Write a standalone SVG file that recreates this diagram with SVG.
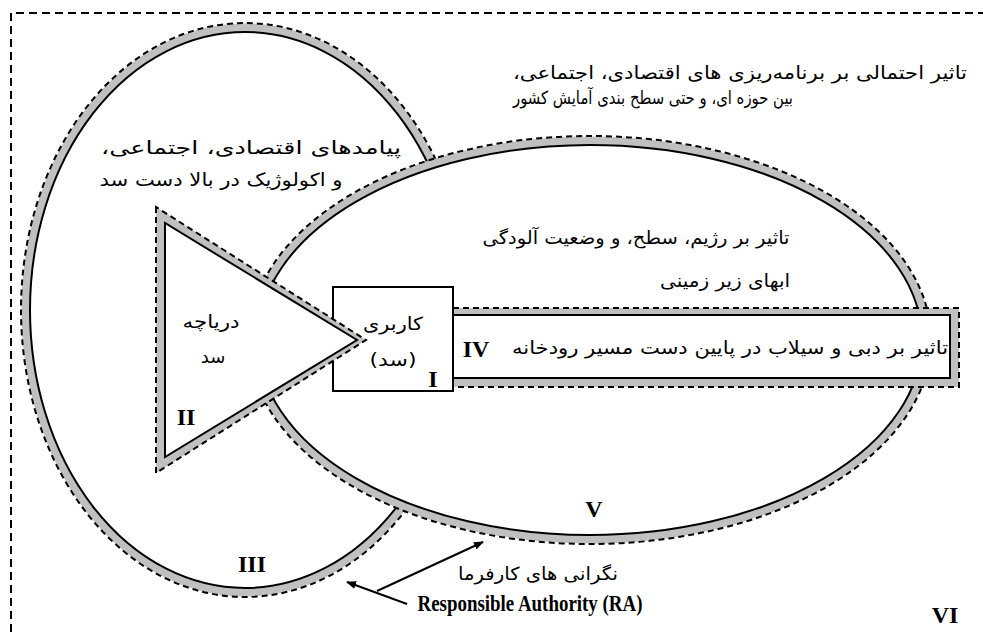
<svg xmlns="http://www.w3.org/2000/svg" width="983" height="632" viewBox="0 0 983 632">
<defs>
<style>
.band{fill:none;stroke:#c0c0c0;stroke-width:8}
.solid{stroke:#000;stroke-width:2}
.dash{fill:none;stroke:#000;stroke-width:2;stroke-dasharray:6 4}
.fa{font-family:"DejaVu Sans",sans-serif;font-size:18px;fill:#000;direction:rtl;unicode-bidi:embed;text-anchor:middle}
.rom{font-family:"Liberation Serif",serif;font-size:24px;font-weight:bold;fill:#000;text-anchor:middle}
</style>
<marker id="ah" viewBox="0 0 10 10" refX="9" refY="5" markerWidth="10" markerHeight="10" markerUnits="userSpaceOnUse" orient="auto">
<path d="M0,1 L10,5 L0,9 Z" fill="#000"/>
</marker>
</defs>
<rect width="983" height="632" fill="#fff"/>
<g id="frame">
<path d="M11,632 V13 H983" fill="none" stroke="#000" stroke-width="2" stroke-dasharray="8 5"/>
</g>
<g id="zone-III">
<ellipse cx="245" cy="310" rx="219.5" ry="282.5" class="band"/>
<ellipse cx="245" cy="310" rx="215" ry="278" fill="none" class="solid"/>
<ellipse cx="245" cy="310" rx="224" ry="287" class="dash"/>
</g>
<g id="zone-V">
<ellipse cx="590" cy="340" rx="336.5" ry="199.5" class="band"/>
<ellipse cx="590" cy="340" rx="332" ry="195" fill="#fff" class="solid"/>
<ellipse cx="590" cy="340" rx="341" ry="204" class="dash"/>
</g>
<g id="zone-IV">
<rect x="453" y="308" width="506" height="79" fill="#c0c0c0"/>
<rect x="453" y="315" width="497" height="63" fill="#fff" class="solid"/>
<path d="M453,308 H959 V387 H453" class="dash"/>
</g>
<g id="zone-I">
<rect x="333" y="287" width="120" height="104" fill="#fff" class="solid"/>
</g>
<g id="zone-II">
<polygon points="156,207 156,473 366,340" fill="#c0c0c0"/>
<polygon points="156,207 156,473 366,340" class="dash"/>
<polygon points="165,223 165,457 357,340" fill="#fff" class="solid"/>
</g>
<g id="labels">
<text class="fa" x="740" y="79" textLength="454" lengthAdjust="spacingAndGlyphs">تاثیر احتمالی بر برنامه‌ریزی های اقتصادی، اجتماعی،</text>
<text class="fa" x="653" y="104" textLength="280" lengthAdjust="spacingAndGlyphs">بین حوزه ای، و حتی سطح بندی آمایش کشور</text>
<text class="fa" x="251" y="154" textLength="300" lengthAdjust="spacingAndGlyphs">پیامدهای اقتصادی، اجتماعی،</text>
<text class="fa" x="221" y="186" textLength="243" lengthAdjust="spacingAndGlyphs">و اکولوژیک در بالا دست سد</text>
<text class="fa" x="636" y="244" textLength="307" lengthAdjust="spacingAndGlyphs">تاثیر بر رژیم، سطح، و وضعیت آلودگی</text>
<text class="fa" x="725" y="287" textLength="130" lengthAdjust="spacingAndGlyphs">ابهای زیر زمینی</text>
<text class="fa" x="211" y="328" textLength="57" lengthAdjust="spacingAndGlyphs">دریاچه</text>
<text class="fa" x="213" y="363">سد</text>
<text class="fa" x="393" y="330" textLength="60" lengthAdjust="spacingAndGlyphs">کاربری</text>
<text class="fa" x="393" y="366" textLength="47" lengthAdjust="spacingAndGlyphs">(سد)</text>
<text class="fa" x="730" y="354" textLength="436" lengthAdjust="spacingAndGlyphs">تاثیر بر دبی و سیلاب در پایین دست مسیر رودخانه</text>
<text class="fa" x="538" y="580" textLength="160" lengthAdjust="spacingAndGlyphs">نگرانی های کارفرما</text>
<text class="rom" x="476" y="357" font-weight="normal">IV</text>
<text class="rom" x="433" y="387">I</text>
<text class="rom" x="186" y="425">II</text>
<text class="rom" x="252" y="572">III</text>
<text class="rom" x="594" y="517">V</text>
<text class="rom" x="945" y="623">VI</text>
<text class="rom" x="530" y="611" font-size="18" textLength="225" lengthAdjust="spacingAndGlyphs">Responsible Authority (RA)</text>
</g>
<g id="connectors" stroke="#000" stroke-width="2" fill="none">
<line x1="407" y1="604" x2="347" y2="582" marker-end="url(#ah)"/>
<line x1="377" y1="591" x2="483" y2="542" marker-end="url(#ah)"/>
</g>
</svg>
